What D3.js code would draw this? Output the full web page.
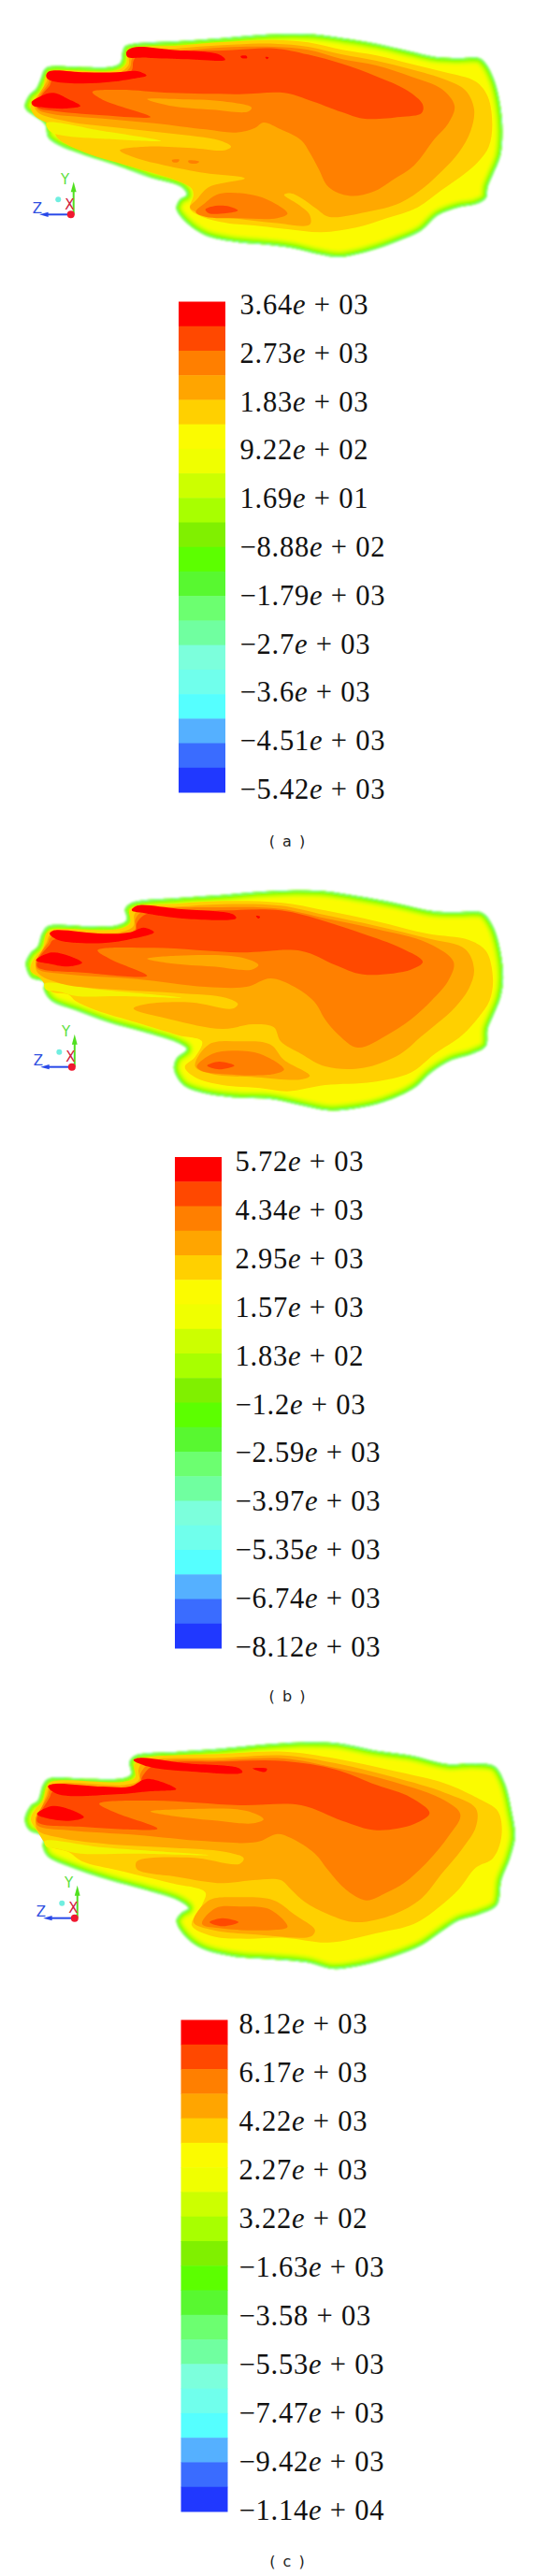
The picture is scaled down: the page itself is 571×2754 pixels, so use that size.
<!DOCTYPE html>
<html><head><meta charset="utf-8">
<script src="https://cdn.jsdelivr.net/npm/d3@7/dist/d3.min.js"></script>
<style>html,body{margin:0;padding:0;background:#fff}svg{display:block}</style></head>
<body><svg id="c" width="571" height="2754"></svg>
<script>
// Colour-bar swatches, top to bottom
const swatchColors=["#ff0000","#ff4800","#ff7f00","#ffa500","#ffd000","#fbfb00","#f0ff00","#ccff00","#a8ff00","#80f000","#5cff00","#58f830","#6cff70","#70ffa0","#7cffdc","#70ffec","#55ffff","#55b0ff","#3a6cff","#2038ff"];
const labelsA=["3.64e + 03","2.73e + 03","1.83e + 03","9.22e + 02","1.69e + 01","−8.88e + 02","−1.79e + 03","−2.7e + 03","−3.6e + 03","−4.51e + 03","−5.42e + 03"];
const labelsB=["5.72e + 03","4.34e + 03","2.95e + 03","1.57e + 03","1.83e + 02","−1.2e + 03","−2.59e + 03","−3.97e + 03","−5.35e + 03","−6.74e + 03","−8.12e + 03"];
const labelsC=["8.12e + 03","6.17e + 03","4.22e + 03","2.27e + 03","3.22e + 02","−1.63e + 03","−3.58 + 03","−5.53e + 03","−7.47e + 03","−9.42e + 03","−1.14e + 04"];
// Contour outlines, in a 1560×900 field per panel
const outlineA=[[72,340],[85,305],[105,285],[118,255],[130,222],[145,213],[250,215],[330,213],[352,200],[358,165],[365,148],[390,140],[520,132],[650,122],[760,112],[850,108],[920,110],[1000,122],[1100,140],[1200,165],[1270,182],[1340,186],[1400,186],[1420,205],[1445,260],[1462,340],[1468,420],[1462,500],[1440,560],[1425,600],[1420,635],[1390,655],[1340,665],[1280,690],[1230,740],[1170,770],[1080,805],[990,825],[930,815],[850,795],[780,785],[680,775],[600,755],[545,715],[515,670],[525,640],[545,625],[530,600],[440,570],[340,530],[240,495],[170,465],[140,440],[132,400],[100,372],[78,355]];
const goldA=[[90,340],[105,310],[125,285],[135,240],[150,228],[340,226],[368,205],[372,170],[390,155],[520,146],[650,135],[800,128],[900,136],[1000,160],[1100,178],[1200,205],[1300,232],[1390,262],[1425,310],[1438,400],[1428,470],[1400,515],[1360,555],[1290,610],[1220,665],[1130,700],[1040,730],[940,745],[840,735],[760,725],[660,715],[590,695],[555,670],[565,625],[560,605],[530,585],[400,540],[250,490],[170,445],[150,405],[100,370]];
const amberA=[[100,335],[115,300],[135,265],[145,240],[340,236],[375,210],[378,180],[395,165],[520,155],[650,145],[800,140],[900,150],[1000,175],[1100,195],[1200,222],[1300,255],[1360,290],[1385,350],[1375,420],[1340,490],[1290,550],[1240,600],[1170,650],[1070,680],[960,695],[925,670],[880,635],[850,620],[830,625],[870,655],[905,690],[905,720],[800,715],[680,700],[600,690],[555,665],[575,640],[610,600],[715,572],[600,555],[480,530],[400,508],[350,482],[430,470],[560,475],[655,482],[675,470],[640,450],[500,428],[350,410],[200,390],[110,360]];
const yellowA=[[135,395],[300,420],[470,452],[300,445],[170,432],[145,420]];
const orangeA=[[105,330],[120,300],[140,270],[150,246],[345,245],[380,215],[385,190],[400,172],[520,163],[650,152],[800,150],[900,160],[1000,190],[1100,210],[1200,245],[1290,285],[1328,340],[1310,395],[1270,445],[1210,530],[1150,575],[1090,615],[1020,628],[960,600],[930,540],[905,490],[880,450],[820,415],[770,393],[745,410],[690,425],[600,415],[450,395],[300,380],[150,365],[110,350]];
const hotA=[[112,328],[125,300],[145,275],[155,255],[345,255],[385,225],[390,195],[410,172],[650,162],[800,155],[900,175],[1000,205],[1100,245],[1190,290],[1235,335],[1232,362],[1170,375],[1060,380],[1000,360],[900,320],[830,298],[700,302],[500,298],[350,288],[270,295],[300,320],[440,375],[300,370],[150,355],[110,345]];
const fingerA=[[430,318],[520,318],[650,325],[735,345],[725,358],[620,352],[500,340]];
const blobAmberA=[];
const blobOrangeA=[[572,680],[600,650],[640,622],[720,622],[780,640],[840,685],[810,700],[700,700],[600,695]];
const blobHotA=[[600,672],[630,660],[670,662],[695,675],[660,684],[610,684]];
const specksA=[[[502,513],[524,512],[520,520],[505,520]],[[550,515],[582,518],[575,524],[552,522]]];
const redA=[[[370,165],[390,152],[500,160],[640,175],[658,192],[550,190],[430,185],[372,182]],[[135,240],[145,228],[250,232],[340,232],[400,228],[428,242],[390,252],[330,262],[240,268],[160,262],[138,252]],[[92,328],[120,308],[155,298],[200,318],[235,340],[195,348],[130,345],[98,340]],[[703,180],[720,179],[722,186],[706,186]],[[775,183],[785,184],[780,190]]];

const outlineB=[[75,300],[90,265],[110,245],[122,205],[140,180],[250,180],[340,178],[370,160],[365,125],[385,105],[520,90],[650,80],[760,70],[860,65],[950,68],[1050,85],[1150,105],[1270,133],[1340,135],[1410,138],[1440,180],[1462,260],[1470,350],[1462,410],[1440,470],[1425,510],[1420,565],[1380,590],[1320,610],[1260,650],[1210,700],[1120,745],[1040,765],[960,772],[880,755],[790,735],[680,730],[590,715],[535,690],[508,640],[515,605],[545,575],[520,555],[420,520],[320,490],[220,450],[150,420],[128,385],[128,360],[90,345]];
const goldB=[[90,305],[105,275],[125,250],[135,205],[150,192],[345,190],[380,170],[378,130],[395,118],[520,108],[650,100],[820,105],[950,130],[1100,165],[1250,205],[1370,225],[1420,260],[1440,350],[1430,420],[1400,470],[1350,530],[1270,590],[1200,650],[1090,680],[950,690],[840,710],[760,700],[650,690],[570,665],[540,632],[570,600],[590,550],[520,530],[400,490],[280,450],[220,420],[200,400],[150,390],[115,345],[90,325]];
const amberB=[[105,295],[120,265],[135,235],[150,205],[350,200],[390,180],[392,145],[405,125],[520,118],[650,110],[820,115],[950,145],[1100,180],[1250,220],[1360,255],[1385,320],[1370,380],[1330,440],[1280,490],[1230,535],[1170,590],[1060,635],[950,630],[880,590],[820,550],[800,505],[740,495],[650,510],[500,480],[390,445],[430,430],[560,425],[680,445],[695,430],[660,410],[520,395],[350,385],[180,365],[110,330]];
const yellowB=[[130,365],[300,385],[530,410],[350,405],[225,405],[170,390],[135,385]];
const orangeB=[[105,295],[120,265],[140,235],[150,215],[355,210],[395,190],[395,160],[415,135],[650,120],[820,125],[950,155],[1100,190],[1250,235],[1325,295],[1310,355],[1260,420],[1200,480],[1130,530],[1045,570],[990,530],[950,480],[920,425],[860,375],[790,348],[720,375],[600,375],[400,350],[200,335],[110,318]];
const hotB=[[110,290],[125,265],[145,240],[155,225],[355,220],[395,200],[400,170],[430,140],[650,130],[820,130],[950,165],[1060,205],[1170,250],[1235,295],[1200,320],[1060,335],[980,305],[880,260],[700,265],[450,250],[285,258],[320,285],[430,340],[250,330],[110,312]];
const fingerB=[[430,285],[520,275],[700,280],[755,305],[735,320],[620,310],[500,300]];
const blobAmberB=[[570,630],[610,560],[700,550],[790,560],[830,610],[905,660],[880,672],[750,665],[620,655]];
const blobOrangeB=[[575,630],[620,590],[680,580],[760,590],[830,640],[800,655],[650,655],[590,645]];
const blobHotB=[[605,628],[640,615],[685,628],[640,640]];
const specksB=[];
const redB=[[[385,130],[400,115],[520,125],[680,142],[690,155],[560,158],[430,140]],[[145,205],[155,195],[300,205],[380,200],[420,185],[450,200],[390,220],[300,235],[170,225]],[[105,290],[150,265],[200,275],[240,298],[200,310],[140,300]],[[748,147],[760,150],[755,156]]];

const outlineC=[[72,285],[90,240],[110,225],[125,175],[140,155],[260,155],[360,153],[382,140],[378,100],[395,80],[520,68],[650,58],[770,45],[870,38],[980,40],[1100,65],[1200,80],[1310,108],[1380,105],[1445,115],[1475,170],[1495,260],[1505,340],[1490,410],[1465,480],[1452,560],[1400,590],[1340,610],[1290,645],[1230,690],[1150,725],[1050,755],[970,765],[900,745],[800,735],[680,725],[590,700],[540,660],[515,610],[530,585],[550,570],[520,545],[420,510],[320,480],[210,440],[140,405],[125,375],[125,340],[85,320]];
const goldC=[[90,285],[105,250],[125,225],[135,185],[150,165],[360,165],[395,150],[392,110],[410,92],[650,75],[830,68],[980,90],[1150,130],[1300,170],[1400,220],[1455,260],[1465,340],[1440,410],[1390,440],[1340,510],[1290,560],[1210,620],[1100,650],[960,680],[830,665],[720,668],[620,660],[560,625],[590,560],[600,520],[500,490],[350,450],[240,420],[200,390],[140,370],[110,325]];
const amberC=[[105,280],[120,250],[135,210],[150,175],[365,175],[405,160],[405,125],[420,100],[650,88],[830,80],[980,105],[1150,150],[1300,200],[1390,250],[1390,310],[1350,380],[1290,460],[1230,540],[1150,590],[1040,615],[960,590],[890,550],[850,510],[820,480],[740,480],[650,490],[520,470],[400,445],[400,420],[560,408],[700,428],[712,410],[660,390],[480,375],[320,365],[180,345],[110,320]];
const yellowC=[[130,355],[300,375],[610,400],[400,395],[235,395],[170,380],[135,372]];
const orangeC=[[105,280],[120,250],[140,210],[150,185],[370,185],[410,170],[410,140],[440,105],[650,95],[830,90],[980,120],[1150,165],[1300,225],[1345,270],[1310,340],[1250,420],[1180,490],[1130,520],[1070,545],[1010,510],[960,450],[920,395],[850,345],[810,332],[750,358],[600,355],[400,335],[200,320],[110,305]];
const hotC=[[110,275],[125,250],[145,215],[155,195],[370,195],[410,175],[415,150],[450,112],[650,100],[830,98],[980,125],[1100,175],[1200,215],[1255,265],[1210,300],[1100,320],[1000,290],[880,240],[700,240],[450,225],[290,235],[340,265],[460,315],[250,310],[110,295]];
const fingerC=[[440,260],[560,252],[720,258],[770,285],[740,298],[620,288],[510,275]];
const blobAmberC=[[565,615],[610,545],[700,535],[800,545],[860,590],[920,640],[910,660],[750,655],[620,640]];
const blobOrangeC=[[590,620],[630,570],[700,565],[790,575],[840,630],[800,640],[650,635]];
const blobHotC=[[612,615],[650,602],[697,615],[650,628]];
const specksC=[];
const redC=[[[390,95],[410,88],[540,105],[700,122],[708,135],[560,132],[440,118]],[[140,180],[155,172],[300,180],[380,180],[430,155],[515,188],[440,195],[340,205],[170,205]],[[108,268],[150,243],[200,252],[245,278],[200,290],[130,280]],[[738,122],[780,123],[775,133]]];

const panels=[
 {id:"a",off:0,outline:outlineA,gold:goldA,amber:amberA,yellow:yellowA,orange:orangeA,hot:hotA,finger:fingerA,bAmber:blobAmberA,bOrange:blobOrangeA,bHot:blobHotA,specks:specksA,red:redA,origin:[207,688],labels:labelsA,barX:191,barY:[322.5,847],labelX:256.5,labelY:[326,844],capY:899},
 {id:"b",off:930,outline:outlineB,gold:goldB,amber:amberB,yellow:yellowB,orange:orangeB,hot:hotB,finger:fingerB,bAmber:blobAmberB,bOrange:blobOrangeB,bHot:blobHotB,specks:specksB,red:redB,origin:[210,632],labels:labelsB,barX:187,barY:[1237,1762],labelX:251.5,labelY:[1242,1761],capY:1813},
 {id:"c",off:1850,outline:outlineC,gold:goldC,amber:amberC,yellow:yellowC,orange:orangeC,hot:hotC,finger:fingerC,bAmber:blobAmberC,bOrange:blobOrangeC,bHot:blobHotC,specks:specksC,red:redC,origin:[218,602],labels:labelsC,barX:193.5,barY:[2159.5,2685],labelX:255.5,labelY:[2164,2684],capY:2738}
];

const svg=d3.select("#c");
const defs=svg.append("defs");
const soft=(id,s)=>defs.append("filter").attr("id",id).attr("x","-5%").attr("y","-5%").attr("width","110%").attr("height","110%")
  .append("feGaussianBlur").attr("stdDeviation",s);
soft("soft",0.7); soft("softer",1.0);
const sx=d3.scaleLinear().domain([0,1560]).range([0,571]);
const sy=d3.scaleLinear().domain([0,900]).range([0,300]);
const blob=d3.line().x(d=>sx(d[0])).y(d=>sy(d[1])).curve(d3.curveCatmullRomClosed.alpha(0.5));
const rim=[["#e4ff00",16],["#c4ff00",12],["#9cff00",8.5],["#78ff08",5],["#80ffb0",1.6]];

panels.forEach(p=>{
  const g=svg.append("g");
  const rimG=g.append("g").attr("transform",`translate(0,${p.off})`).attr("filter","url(#softer)");
  const field=g.append("g").attr("transform",`translate(0,${p.off})`).attr("filter","url(#soft)");
  defs.append("clipPath").attr("id","clip"+p.id).append("path").attr("d",blob(p.outline));
  const fill=(pts,c)=>{ if(pts.length) field.append("path").attr("d",blob(pts)).attr("fill",c); };
  rimG.append("path").attr("d",blob(p.outline)).attr("fill","#fbfb00");
  const r=rimG.append("g").attr("clip-path",`url(#clip${p.id})`);
  rim.forEach(([c,w])=>r.append("path").attr("d",blob(p.outline)).attr("fill","none").attr("stroke",c).attr("stroke-width",w));
  fill(p.gold,"#ffd000");
  fill(p.yellow,"#f4f400");
  fill(p.amber,"#ffa800");
  fill(p.bAmber,"#ffa800");
  p.specks.forEach(a=>fill(a,"#ff8000"));
  fill(p.orange,"#ff8000");
  fill(p.hot,"#ff4a00");
  fill(p.finger,"#ffa800");
  fill(p.bOrange,"#ff8000");
  fill(p.bHot,"#ff4a00");
  p.red.forEach(a=>fill(a,"#ff0000"));

  // triad
  const [ox,oy]=p.origin, t=g.append("g").attr("transform",`translate(0,${p.off})`);
  const X=v=>sx(ox+v), Y=v=>sy(oy+v);
  t.append("line").attr("x1",X(8)).attr("x2",X(8)).attr("y1",Y(0)).attr("y2",Y(-85)).attr("stroke","#50e020").attr("stroke-width",2);
  t.append("path").attr("d",`M${X(8)},${Y(-105)}L${X(0)},${Y(-72)}L${X(16)},${Y(-72)}Z`).attr("fill","#50e020");
  t.append("line").attr("x1",X(0)).attr("x2",X(-75)).attr("y1",Y(0)).attr("y2",Y(0)).attr("stroke","#2848e8").attr("stroke-width",2);
  t.append("path").attr("d",`M${X(-92)},${Y(0)}L${X(-66)},${Y(-8)}L${X(-66)},${Y(8)}Z`).attr("fill","#2848e8");
  t.append("circle").attr("cx",X(-37)).attr("cy",Y(-48)).attr("r",3).attr("fill","#70eee0");
  t.append("circle").attr("cx",X(0)).attr("cy",Y(0)).attr("r",4).attr("fill","#f01830");
  const tl=(s,dx,dy,c)=>t.append("text").text(s).attr("x",X(dx)).attr("y",Y(dy)).attr("fill",c).attr("font-family","'DejaVu Sans',sans-serif").attr("font-size",15).attr("text-anchor","middle");
  tl("Y",-17,-97,"#60e040"); tl("Z",-98,-5,"#3050e0"); tl("X",-4,-17,"#d02040");

  // colour bar
  const band=d3.scaleBand().domain(swatchColors).range(p.barY);
  g.append("g").selectAll("rect").data(swatchColors).join("rect")
    .attr("x",p.barX).attr("width",50).attr("y",d=>band(d)).attr("height",band.bandwidth()+0.5).attr("fill",d=>d);

  // labels
  const ly=d3.scalePoint().domain(p.labels).range(p.labelY);
  const txt=g.append("g").selectAll("text").data(p.labels).join("text")
    .attr("x",p.labelX).attr("y",d=>ly(d)).attr("dy","0.33em").attr("fill","#111")
    .attr("font-family","'Liberation Serif',serif").attr("font-size",30.5).attr("letter-spacing",0.8);
  txt.each(function(d){
    const s=d3.select(this), i=d.indexOf("e");
    if(i<0){ s.text(d); return; }
    s.append("tspan").text(d.slice(0,i));
    s.append("tspan").attr("font-style","italic").text("e");
    s.append("tspan").text(d.slice(i+1));
  });
  g.append("text").text(`( ${p.id} )`).attr("x",307).attr("y",p.capY).attr("dy","0.35em").attr("text-anchor","middle")
    .attr("font-family","'DejaVu Sans',sans-serif").attr("font-size",16).attr("word-spacing",3).attr("fill","#222");
});
</script></body></html>
